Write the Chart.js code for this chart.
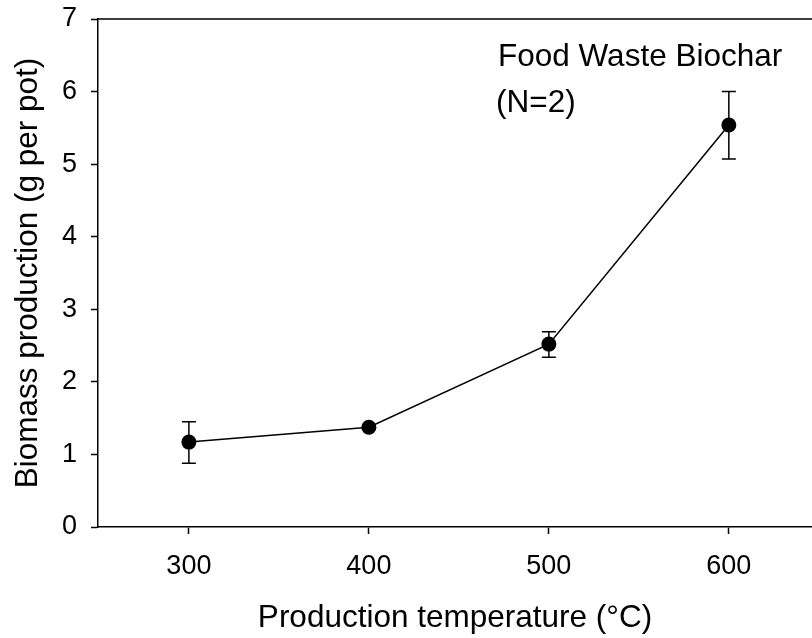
<!DOCTYPE html>
<html>
<head>
<meta charset="utf-8">
<script src="https://cdn.jsdelivr.net/npm/chart.js@4/dist/chart.umd.min.js"></script>
<style>
  html, body { margin: 0; padding: 0; background: #fff; overflow: hidden; }
  #c { display: block; }
</style>
</head>
<body>
<canvas id="c" width="812" height="638"></canvas>
<script>
// Production temperature (°C) and mean biomass per pot
const temperatures = [300, 400, 500, 600];
const biomass = [1.17, 1.375, 2.52, 5.54];
const errHigh = [1.45, 1.40, 2.69, 6.00];
const errLow = [0.88, 1.35, 2.34, 5.07];
const xTicks = [300, 400, 500, 600];
const yTicks = [0, 1, 2, 3, 4, 5, 6, 7];
const noteTitle = 'Food Waste Biochar';
const noteN = '(N=2)';

const FONT = "'Liberation Sans', Arial, sans-serif";

const errorBars = {
  id: 'errorBars',
  afterDatasetsDraw(chart) {
    const { ctx, scales: { x, y } } = chart;
    ctx.save();
    ctx.strokeStyle = '#000';
    ctx.lineWidth = 1.5;
    temperatures.forEach((t, i) => {
      const px = x.getPixelForValue(t);
      const top = y.getPixelForValue(errHigh[i]);
      const bot = y.getPixelForValue(errLow[i]);
      ctx.beginPath();
      ctx.moveTo(px, top); ctx.lineTo(px, bot);
      ctx.moveTo(px - 7, top); ctx.lineTo(px + 7, top);
      ctx.moveTo(px - 7, bot); ctx.lineTo(px + 7, bot);
      ctx.stroke();
    });
    ctx.restore();
  }
};

const frameAndNotes = {
  id: 'frameAndNotes',
  afterDraw(chart) {
    const { ctx, chartArea: a } = chart;
    ctx.save();
    ctx.strokeStyle = '#000';
    ctx.lineWidth = 1.5;
    ctx.beginPath();
    ctx.moveTo(a.left, a.top);
    ctx.lineTo(a.right, a.top);
    ctx.stroke();
    ctx.fillStyle = '#000';
    ctx.font = '31.5px ' + FONT;
    ctx.textBaseline = 'alphabetic';
    ctx.textAlign = 'left';
    ctx.fillText(noteTitle, 498, 66);
    ctx.fillText(noteN, 496, 112);
    ctx.restore();
  }
};

function noEdgePadding(s) {
  s.paddingLeft = 0; s.paddingRight = 0;
  s.paddingTop = 0; s.paddingBottom = 0;
}

new Chart(document.getElementById('c'), {
  type: 'line',
  data: {
    datasets: [{
      data: temperatures.map((t, i) => ({ x: t, y: biomass[i] })),
      borderColor: '#000',
      borderWidth: 1.5,
      backgroundColor: '#000',
      pointRadius: 7.5,
      pointBorderWidth: 0,
      pointBackgroundColor: '#000',
      tension: 0,
      fill: false
    }]
  },
  options: {
    responsive: false,
    animation: false,
    layout: { autoPadding: false, padding: { top: 19, right: 0, left: 0, bottom: 0 } },
    plugins: { legend: { display: false }, tooltip: { enabled: false } },
    scales: {
      x: {
        type: 'linear',
        // the frame continues past the right edge of the canvas
        min: 249.5,
        max: 646.2,
        afterBuildTicks(s) { s.ticks = xTicks.map(v => ({ value: v })); },
        afterFit(s) { s.height = 111; noEdgePadding(s); },
        grid: { drawOnChartArea: false, drawTicks: true, tickLength: 7, tickWidth: 1.5, tickColor: '#000' },
        border: { display: true, color: '#000', width: 1.5 },
        ticks: { color: '#000', padding: 16, font: { family: FONT, size: 27 }, maxRotation: 0 },
        title: {
          display: true,
          text: 'Production temperature (°C)',
          color: '#000',
          font: { family: FONT, size: 31.5 },
          padding: { top: 0, bottom: 1 }
        }
      },
      y: {
        min: 0,
        max: 7,
        afterBuildTicks(s) { s.ticks = yTicks.map(v => ({ value: v })); },
        afterFit(s) { s.width = 98; noEdgePadding(s); },
        grid: { drawOnChartArea: false, drawTicks: true, tickLength: 7, tickWidth: 1.5, tickColor: '#000' },
        border: { display: true, color: '#000', width: 1.5 },
        ticks: { color: '#000', padding: 14, font: { family: FONT, size: 27 } },
        title: {
          display: true,
          text: 'Biomass production (g per pot)',
          color: '#000',
          font: { family: FONT, size: 31.5 },
          padding: { top: 9, bottom: 0 }
        }
      }
    }
  },
  plugins: [errorBars, frameAndNotes]
});
</script>
</body>
</html>
